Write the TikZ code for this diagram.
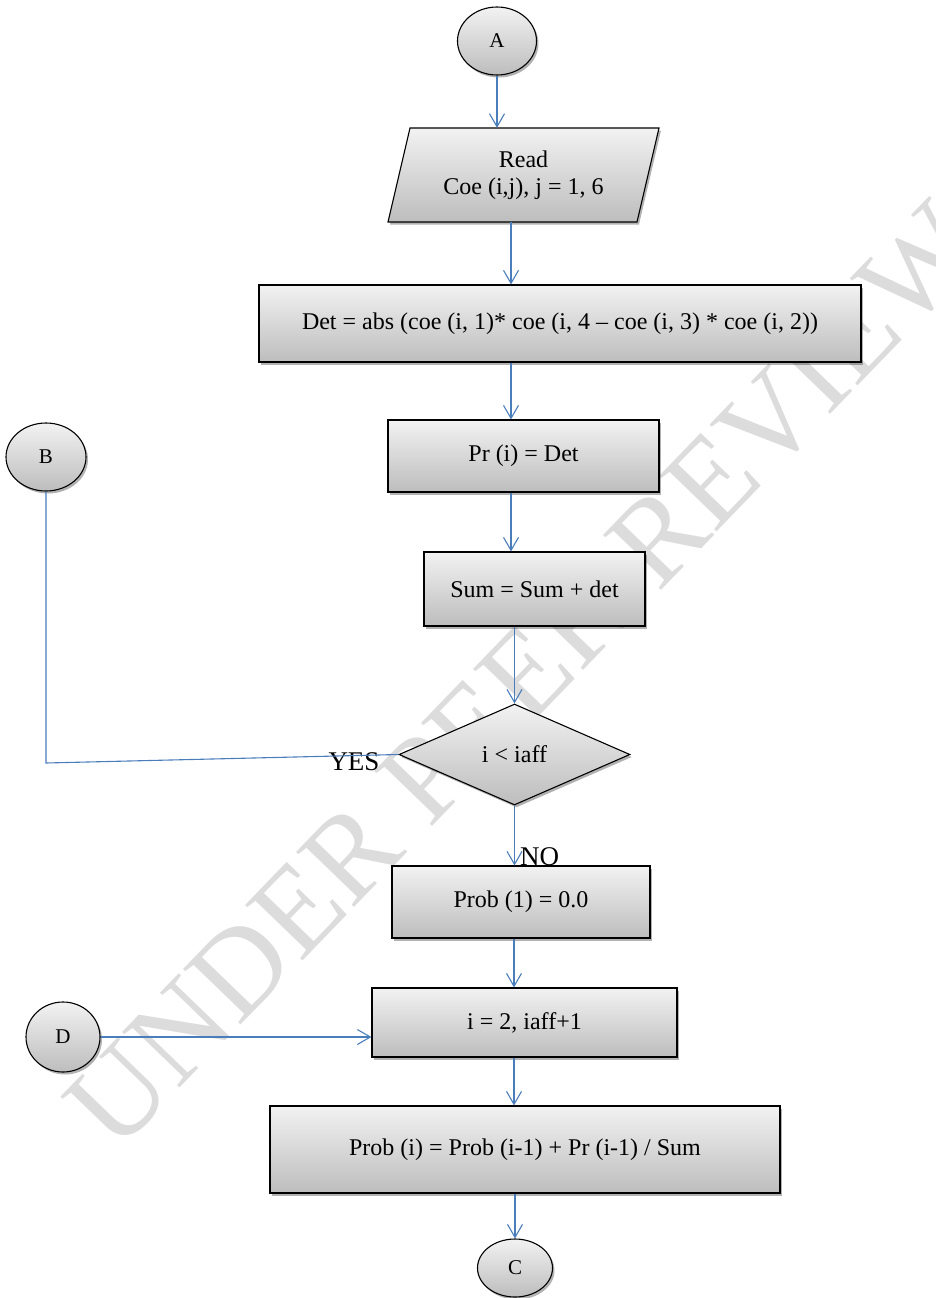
\documentclass[tikz,border=0pt]{standalone}
\usepackage{fontspec}
\setmainfont{Liberation Serif}
\usetikzlibrary{shapes.geometric,arrows.meta,shadows,calc}

\definecolor{linkblue}{HTML}{4A7EBB}
\definecolor{boxtop}{HTML}{F2F2F2}
\definecolor{boxbot}{HTML}{BDBDBD}
\definecolor{markgray}{HTML}{DCDCDC}

\begin{document}
\begin{tikzpicture}[x=1pt,y=-1pt,
  shaded/.style={draw=black,line width=1.1pt,top color=boxtop,bottom color=boxbot,
    drop shadow={shadow xshift=2pt,shadow yshift=-2.5pt,opacity=0.3,fill=black}},
  txt/.style={font=\fontsize{24}{27}\selectfont,align=center,inner sep=0pt},
  procbox/.style={shaded,txt,rectangle},
  connector/.style={shaded,ellipse,inner sep=0pt,font=\fontsize{21}{24}\selectfont},
  decision/.style={shaded,txt,diamond},
  flow/.style={draw=linkblue,line width=1.1pt,-{Straight Barb[length=13pt,width=15pt,line width=1.1pt]}},
  plainflow/.style={draw=linkblue,line width=1.1pt},
  answer/.style={font=\fontsize{27}{30}\selectfont,inner sep=0pt}]

\useasboundingbox (0,0) rectangle (935,1298);

% watermark behind the chart
\node[text=markgray,rotate=46,font=\fontsize{122}{130}\selectfont,inner sep=0pt] (mark) at (524,676) {UNDER PEER REVIEW};

% column guides for the vertical flow
\coordinate (col) at (511,0);
\coordinate (colb) at (514,0);

% start connector
\node[connector,minimum width=79pt,minimum height=68pt] (A) at (497,41) {A};

% input parallelogram
\coordinate (readc) at (523.5,175);
\path[shaded] ($(readc)+(-135.5,47)$) -- ($(readc)+(113.5,47)$) -- ($(readc)+(135.5,-47)$) -- ($(readc)+(-113.5,-47)$) -- cycle;
\node[txt,minimum width=249pt,minimum height=94pt] (Read) at (readc) {Read\\Coe (i,j), j = 1, 6};

% process boxes
\node[procbox,minimum width=602pt,minimum height=77pt] (Det) at (560,323.5) {Det = abs (coe (i, 1)* coe (i, 4 -- coe (i, 3) * coe (i, 2))};
\node[procbox,minimum width=271pt,minimum height=72pt] (Pr) at (523.5,456) {Pr (i) = Det};
\node[procbox,minimum width=221pt,minimum height=74pt] (Sum) at (534.5,589) {Sum = Sum + det};
\node[decision,minimum width=231pt,minimum height=101pt,aspect=2.3] (Dia) at (514.5,754.5) {i < iaff};
\node[procbox,minimum width=258pt,minimum height=72pt] (Prob1) at (521,902) {Prob (1) = 0.0};
\node[procbox,minimum width=305pt,minimum height=69pt] (Loop) at (524.5,1022.5) {i = 2, iaff+1};
\node[procbox,minimum width=510pt,minimum height=87pt] (ProbI) at (525,1149.5) {Prob (i) = Prob (i-1) + Pr (i-1) / Sum};

% off-page connectors
\node[connector,minimum width=80pt,minimum height=68pt] (B) at (46,457) {B};
\node[connector,minimum width=74pt,minimum height=70pt] (D) at (63,1037) {D};
\node[connector,minimum width=75pt,minimum height=58pt] (C) at (515,1268) {C};

% branch labels
\node[answer] (yes) at (354,762) {YES};
\node[answer,anchor=west] (no) at (520,857) {NO};

% connectors
\draw[flow] (A.south) -- (A.south |- Read.north);
\draw[flow] (Read.south -| col) -- (Det.north -| col);
\draw[flow] (Det.south -| col) -- (Pr.north -| col);
\draw[flow] (Pr.south -| col) -- (Sum.north -| col);
\draw[flow] (Dia.north |- Sum.south) -- (Dia.north);
\draw[flow] (Dia.south) -- (Dia.south |- Prob1.north);
\draw[flow] (Prob1.south -| colb) -- (Loop.north -| colb);
\draw[flow] (Loop.south -| colb) -- (ProbI.north -| colb);
\draw[flow] (C.north |- ProbI.south) -- (C.north);
\draw[flow] (D.east) -- (D.east -| Loop.west);
\coordinate (bend) at (46,763);
\draw[plainflow] (B.south) -- (bend) -- (Dia.west);

\end{tikzpicture}
\end{document}
